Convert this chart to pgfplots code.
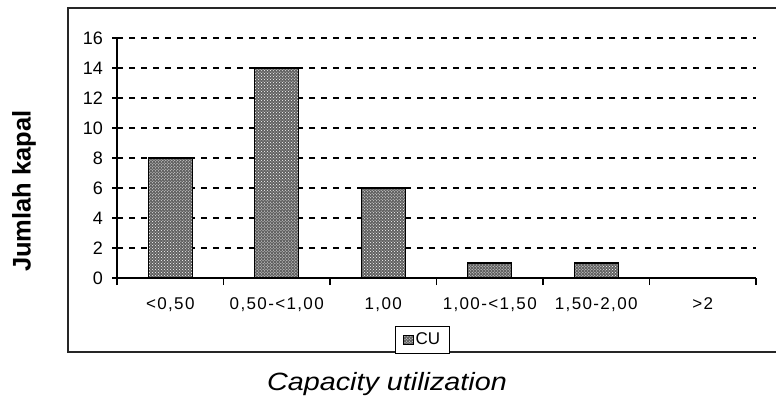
\documentclass[border=0pt]{standalone}
\usepackage{fontspec}
\setmainfont{Liberation Sans}
\newfontfamily\tickfont{Liberation Sans}[LetterSpace=8]
\usepackage{graphicx}
\usepackage{pgfplots}
\pgfplotsset{compat=1.18}
\usetikzlibrary{patterns}

\begin{document}
\begin{tikzpicture}
  \useasboundingbox (0,0) rectangle (776bp,401bp);
  % outer frame (cut off at the right)
  \draw[line width=1.6bp, black!85] (68bp,49bp) rectangle (800bp,393bp);

  \begin{axis}[
      at={(117bp,123bp)}, anchor=south west,
      scale only axis,
      width=639bp, height=240bp,
      xmin=0.5, xmax=6.5,
      ymin=0, ymax=16,
      axis x line*=bottom,
      axis y line*=left,
      axis line style={-, line width=1.4bp},
      xtick={1,...,6},
      xticklabels={{<0,50},{0,50-<1,00},{1,00},{1,00-<1,50},{1,50-2,00},{>2}},
      major x tick style={draw=none},
      minor xtick={0.5,1.5,...,6.5},
      minor tick length=7bp,
      minor x tick style={yshift=-3.5bp, line width=1.2bp, black},
      ytick={0,2,...,16},
      tick align=center,
      major tick length=9bp,
      major y tick style={line width=1.2bp, black},
      ymajorgrids=true,
      major grid style={black, line width=1.1bp, dash pattern=on 6bp off 6bp},
      /pgf/number format/assume math mode=true,
      xticklabel style={font=\tickfont\fontsize{17bp}{19bp}\selectfont, yshift=-12bp},
      yticklabel style={font=\fontsize{18bp}{20bp}\selectfont, xshift=-6bp},
      legend style={
          at={(0.478,-0.316)}, anchor=south,
          draw=black, line width=0.9bp,
          font=\fontsize{17bp}{19bp}\selectfont,
          inner xsep=7bp, inner ysep=5bp,
        },
      legend image code/.code={
          \draw[#1, line width=0.7bp] (0bp,-4.5bp) rectangle (10bp,4.5bp);
        },
    ]
    \addplot[
        ybar, bar width=44bp,
        draw=black, line width=1.4bp,
        fill=black!62,
        postaction={pattern=crosshatch dots, pattern color=white},
      ] coordinates {
        (1,8) (2,14) (3,6) (4,1) (5,1) (6,0)
      };
    \addlegendentry{CU}
  \end{axis}

  \node[rotate=90, font=\bfseries\fontsize{25.5bp}{28bp}\selectfont]
    at (24bp,210bp) {Jumlah kapal};
  \node[font=\itshape\fontsize{25bp}{28bp}\selectfont]
    at (387bp,17bp) {\scalebox{1.15}[1]{Capacity utilization}};
\end{tikzpicture}
\end{document}
